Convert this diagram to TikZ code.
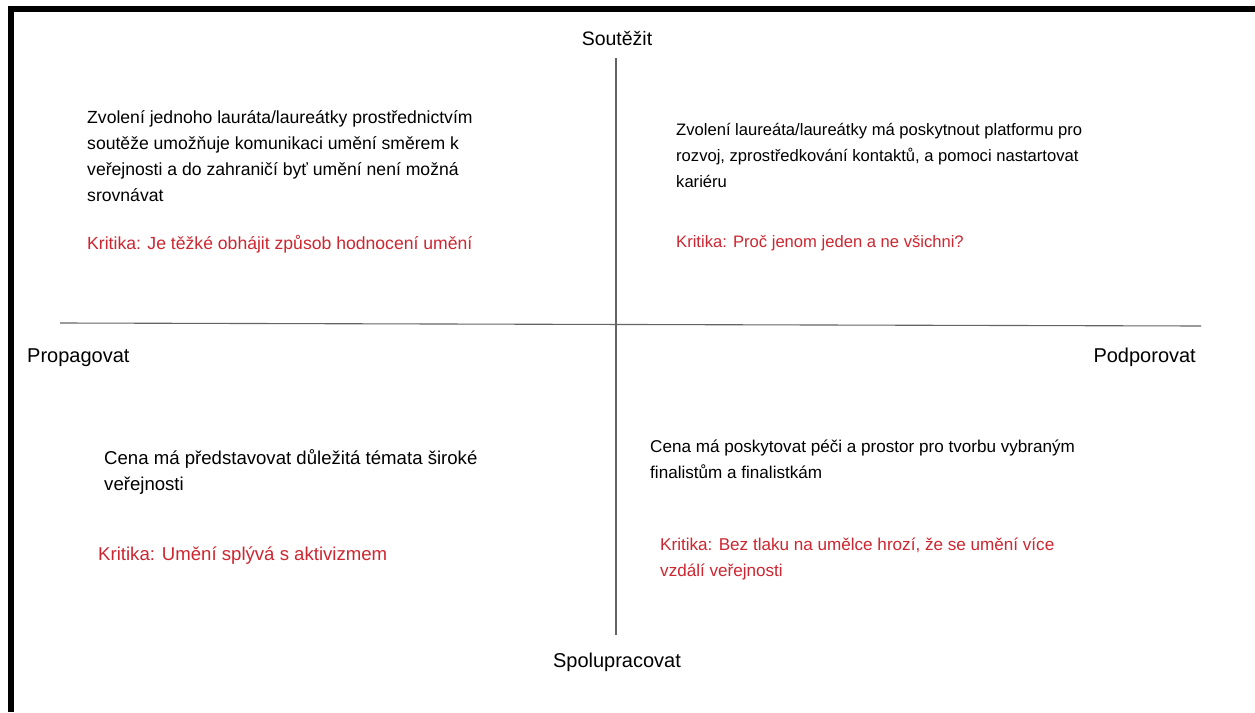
\documentclass[tikz,border=0pt]{standalone}
\usepackage{fontspec}
\setmainfont{Liberation Sans}
\definecolor{krit}{RGB}{206,38,48}
\definecolor{axis}{RGB}{100,100,100}
\begin{document}
\begin{tikzpicture}[x=1pt,y=-1pt,
  body/.style={anchor=base west,inner sep=0pt,align=left},
  crit/.style={body,text=krit},
  fs/.style={font=\fontsize{#1}{26}\selectfont},
  axlabel/.style={inner sep=0pt,font=\fontsize{20}{22}\selectfont},
  axisline/.style={draw=axis,line width=1.1pt}]
\useasboundingbox (0,0) rectangle (1255,712);
\fill[white] (0,0) rectangle (1255,712);
\fill[black] (8,6) rectangle (1255,12);
\fill[black] (8,6) rectangle (14,712);
% axes
\coordinate (vt) at (616,58);
\coordinate (vb) at (616,635);
\coordinate (hl) at (60,323);
\coordinate (hr) at (1201,326);
\draw[axisline] (vt) -- (vb);
\draw[axisline] (hl) -- (hr);
% axis labels
\node[axlabel,anchor=base,font=\fontsize{19.5}{22}\selectfont] (top) at (617,45) {Soutěžit};
\node[axlabel,anchor=base] (bot) at (617,667) {Spolupracovat};
\node[axlabel,anchor=base west] (left) at (27,362) {Propagovat};
\node[axlabel,anchor=base east] (right) at (1196,362) {Podporovat};
% quadrant texts (base anchor = baseline of last line)
\node[body,fs=17.6] (tl) at (87,201) {Zvolení jednoho lauráta/laureátky prostřednictvím\\soutěže umožňuje komunikaci umění směrem k\\veřejnosti a do zahraničí byť umění není možná\\srovnávat};
\node[crit,fs=17.6] (tlk) at (87,249) {Kritika: Je těžké obhájit způsob hodnocení umění};
\node[body,fs=16.6] (tr) at (676,187) {Zvolení laureáta/laureátky má poskytnout platformu pro\\rozvoj, zprostředkování kontaktů, a pomoci nastartovat\\kariéru};
\node[crit,fs=16.6] (trk) at (676,247) {Kritika: Proč jenom jeden a ne všichni?};
\node[body,fs=18.6] (bl) at (104,490) {Cena má představovat důležitá témata široké\\veřejnosti};
\node[crit,fs=18.6] (blk) at (98,560) {Kritika: Umění splývá s aktivizmem};
\node[body,fs=17.1] (br) at (650,478) {Cena má poskytovat péči a prostor pro tvorbu vybraným\\finalistům a finalistkám};
\node[crit,fs=17.1] (brk) at (660,576) {Kritika: Bez tlaku na umělce hrozí, že se umění více\\vzdálí veřejnosti};
\end{tikzpicture}
\end{document}
